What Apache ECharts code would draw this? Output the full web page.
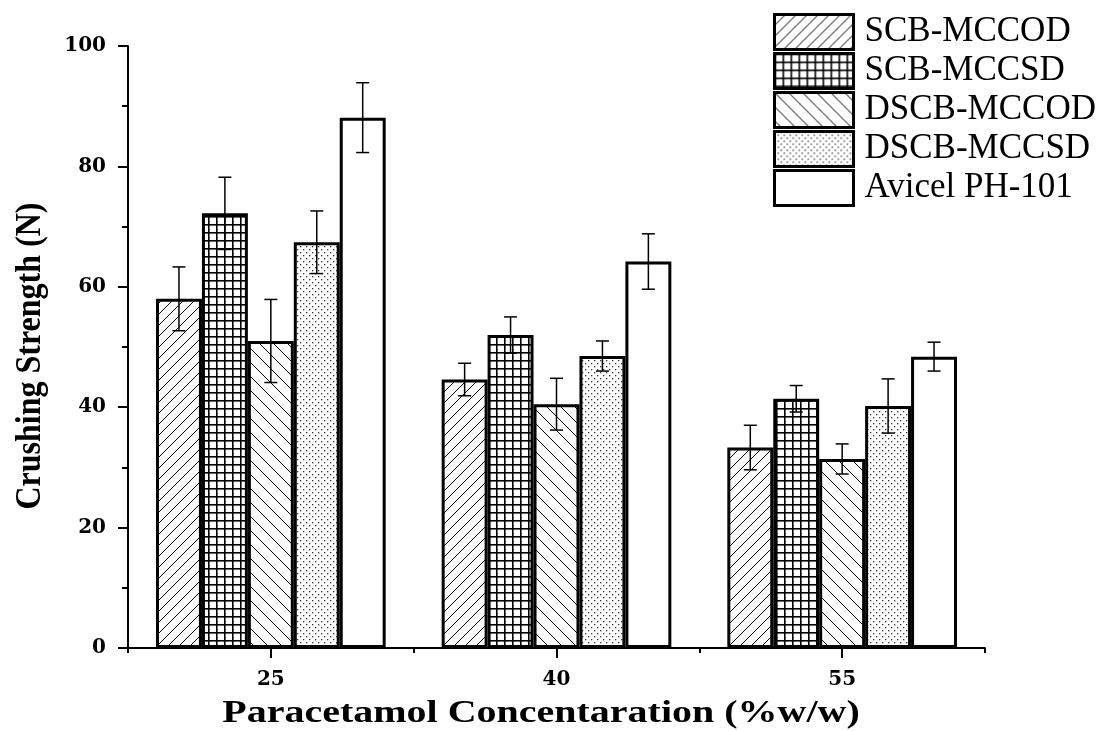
<!DOCTYPE html>
<html>
<head>
<meta charset="utf-8">
<script src="https://cdn.jsdelivr.net/npm/echarts@6/dist/echarts.min.js"></script>
<style>html,body{margin:0;padding:0;background:#fff}#c{width:1102px;height:731px}</style>
</head>
<body>
<div id="c"></div>
<script>
// ---- data ----
const categories = ['25', '40', '55'];
const seriesNames = ['SCB-MCCOD', 'SCB-MCCSD', 'DSCB-MCCOD', 'DSCB-MCCSD', 'Avicel PH-101'];
const scbMccod   = [58.0, 44.6, 33.3];
const scbMccsd   = [72.2, 52.0, 41.4];
const dscbMccod  = [51.0, 40.5, 31.4];
const dscbMccsd  = [67.4, 48.5, 40.2];
const avicel     = [88.1, 64.2, 48.4];
const scbMccodErr  = [5.3, 2.7, 3.7];
const scbMccsdErr  = [6.0, 3.0, 2.2];
const dscbMccodErr = [6.9, 4.3, 2.5];
const dscbMccsdErr = [5.2, 2.5, 4.5];
const avicelErr    = [5.8, 4.6, 2.4];
const yTicks = { min: 0, max: 100, interval: 20 };
const xTitle = 'Paracetamol Concentaration (%w/w)';
const yTitle = 'Crushing Strength (N)';

const values = [scbMccod, scbMccsd, dscbMccod, dscbMccsd, avicel];
const errors = [scbMccodErr, scbMccsdErr, dscbMccodErr, dscbMccsdErr, avicelErr];

// ---- patterns ----
function mk(w, h, draw) {
  const c = document.createElement('canvas'); c.width = w; c.height = h;
  const g = c.getContext('2d'); g.fillStyle = '#fff'; g.fillRect(0, 0, w, h);
  g.strokeStyle = '#000'; g.fillStyle = '#000'; draw(g, w, h); return c;
}
const patFwd = mk(11, 11, (g, w, h) => {
  g.lineWidth = 1;
  g.beginPath();
  g.moveTo(-1, h + 1); g.lineTo(w + 1, -1);
  g.moveTo(-w - 1, h + 1); g.lineTo(1, -1);
  g.moveTo(w - 1, 2 * h + 1); g.lineTo(2 * w + 1, h - 1);
  g.stroke();
});
const patBack = mk(14, 14, (g, w, h) => {
  g.lineWidth = 1;
  g.beginPath();
  g.moveTo(-1, -1); g.lineTo(w + 1, h + 1);
  g.moveTo(-w - 1, -1); g.lineTo(1, h + 1);
  g.moveTo(w - 1, -1); g.lineTo(2 * w + 1, h + 1);
  g.stroke();
});
const patGrid = mk(8, 8, (g, w, h) => {
  g.fillRect(0, 0, w, 1.6);
  g.fillRect(0, 0, 1.6, h);
});
const patDots = mk(6, 6, (g, w, h) => {
  g.fillStyle = '#333';
  g.fillRect(0, 0, 1.3, 1.3);
  g.fillRect(3, 3, 1.3, 1.3);
});
const fills = [
  { image: patFwd, repeat: 'repeat' },
  { image: patGrid, repeat: 'repeat' },
  { image: patBack, repeat: 'repeat' },
  { image: patDots, repeat: 'repeat' },
  '#ffffff'
];

const SERIF = 'Liberation Serif';
const LABEL_FONT = 'DejaVu Serif';
const CAT_GAP = 0.196;

const barSeries = seriesNames.map((name, i) => ({
  name: name,
  type: 'bar',
  data: values[i],
  barGap: '0%',
  barCategoryGap: (CAT_GAP * 100) + '%',
  itemStyle: { color: fills[i], borderColor: '#000', borderWidth: 3 },
  emphasis: { disabled: true },
  z: 2
}));

const errSeries = seriesNames.map((name, i) => ({
  type: 'custom',
  name: 'err' + i,
  data: values[i].map((v, k) => [k, v - errors[i][k], v + errors[i][k]]),
  z: 5,
  silent: true,
  renderItem: function (params, api) {
    const band = api.size([1, 0])[0];
    const bw = band * (1 - CAT_GAP) / 5;
    const x0 = api.coord([api.value(0), 0])[0] + (i - 2) * bw;
    const lo = api.coord([api.value(0), api.value(1)])[1];
    const hi = api.coord([api.value(0), api.value(2)])[1];
    const cap = 6.5;
    const st = { stroke: '#000', lineWidth: 1.5, fill: null };
    return {
      type: 'group',
      children: [
        { type: 'line', shape: { x1: x0, y1: lo, x2: x0, y2: hi }, style: st },
        { type: 'line', shape: { x1: x0 - cap, y1: lo, x2: x0 + cap, y2: lo }, style: st },
        { type: 'line', shape: { x1: x0 - cap, y1: hi, x2: x0 + cap, y2: hi }, style: st }
      ]
    };
  }
}));

const chart = echarts.init(document.getElementById('c'), null, { renderer: 'canvas' });
chart.setOption({
  animation: false,
  backgroundColor: '#fff',
  graphic: [
    {
      type: 'text', x: 541, y: 714, scaleX: 1.29,
      style: { text: xTitle, fontFamily: SERIF, fontWeight: 'bold', fontSize: 31, fill: '#000',
               textAlign: 'center', textVerticalAlign: 'middle' }
    },
    {
      type: 'text', x: 30, y: 356, rotation: Math.PI / 2, scaleY: 1.15,
      style: { text: yTitle, fontFamily: SERIF, fontWeight: 'bold', fontSize: 32, fill: '#000',
               textAlign: 'center', textVerticalAlign: 'middle' }
    }
  ],
  legend: {
    data: seriesNames,
    orient: 'vertical',
    left: 773, top: 13, padding: 0,
    icon: 'rect',
    itemWidth: 79, itemGap: 1, itemHeight: 35,
    itemStyle: { borderColor: '#000', borderWidth: 3 },
    textStyle: { fontFamily: SERIF, fontSize: 35, lineHeight: 35, color: '#000', padding: [0, 0, 0, 6] },
    selectedMode: false
  },
  grid: { left: 128, right: 117, top: 46, bottom: 83, containLabel: false },
  xAxis: [{
    type: 'category', data: categories, position: 'bottom',
    axisLine: { lineStyle: { color: '#000', width: 2 } },
    axisTick: { show: true, alignWithLabel: true, length: 10, lineStyle: { color: '#000', width: 2 } },
    axisLabel: { fontFamily: LABEL_FONT, fontWeight: 'bold', fontSize: 20, color: '#000', margin: 22 }
  }, {
    type: 'category', data: categories, position: 'bottom', offset: 0,
    axisLine: { show: false },
    axisTick: { show: true, length: 5, lineStyle: { color: '#000', width: 2 } },
    axisLabel: { show: false }
  }],
  yAxis: {
    type: 'value', min: yTicks.min, max: yTicks.max, interval: yTicks.interval,
    axisLine: { show: true, lineStyle: { color: '#000', width: 2 } },
    axisTick: { show: true, length: 10, lineStyle: { color: '#000', width: 2 } },
    minorTick: { show: true, splitNumber: 2, length: 6, lineStyle: { color: '#000', width: 2 } },
    splitLine: { show: false },
    axisLabel: { fontFamily: LABEL_FONT, fontWeight: 'bold', fontSize: 20, color: '#000', margin: 22 }
  },
  series: barSeries.concat(errSeries)
});
</script>
</body>
</html>
